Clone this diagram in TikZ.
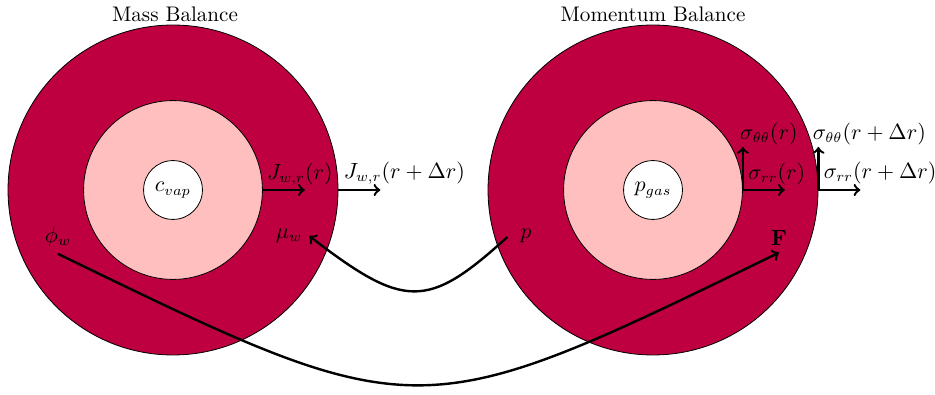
\documentclass[tikz,border=0pt]{standalone}
\usepackage{amsmath, amssymb, amsfonts}
\usetikzlibrary{calc}

\tikzset{
  ring/.style={circle, draw, inner sep=0pt},
  flux/.style={->, very thick}
}

\begin{document}
\begin{tikzpicture}[x=0.0175cm, y=-0.0175cm, font=\fontsize{10.5}{12.6}\selectfont]
        \useasboundingbox (0,0) rectangle (935,395);

        % Titles
        \node (masstitle) at (175,14) {Mass Balance};
        \node (momtitle) at (653,14) {Momentum Balance};

        % Mass balance shells
        \node[ring, fill=purple, minimum size=5.775cm] (massout) at (173,190) {};
        \node[ring, fill=pink, minimum size=3.13cm] (massin) at (massout) {};
        \node[ring, fill=white, minimum size=1.03cm] (masscore) at (massout) {$c_{vap}$};

        % Momentum balance shells
        \node[ring, fill=purple, minimum size=5.775cm] (momout) at (653,190) {};
        \node[ring, fill=pink, minimum size=3.13cm] (momin) at (momout) {};
        \node[ring, fill=white, minimum size=1.03cm] (momcore) at (momout) {$p_{gas}$};

        % Fluxes through the mass shell
        \coordinate (jinend) at ($(massin.east)+(42,0)$);
        \coordinate (joutend) at ($(massout.east)+(42,0)$);
        \draw[flux] (massin.east) -- (jinend);
        \draw[flux] (massout.east) -- (joutend);
        \node[above right, inner sep=2pt] (jin) at (massin.east) {$J_{w,r}(r)$};
        \node[above right, inner sep=2.5pt] (jout) at (massout.east) {$J_{w,r}(r + \Delta r)$};

        % Stresses on the momentum shell
        \coordinate (srrin) at ($(momin.east)+(42,0)$);
        \coordinate (sttin) at ($(momin.east)+(0,-43)$);
        \coordinate (srrout) at ($(momout.east)+(42,0)$);
        \coordinate (sttout) at ($(momout.east)+(0,-43)$);
        \draw[flux] (momin.east) -- (srrin);
        \draw[flux] (momin.east) -- (sttin);
        \draw[flux] (momout.east) -- (srrout);
        \draw[flux] (momout.east) -- (sttout);
        \node[above right, inner sep=2.5pt] (lsrrin) at (momin.east) {$\sigma_{rr}(r)$};
        \node[anchor=south west, inner sep=1pt] (lsttin) at ($(sttin)+(-5,0)$) {$\sigma_{\theta\theta}(r)$};
        \node[anchor=south west, inner sep=0pt] (lsrrout) at ($(momout.east)+(5,-6)$) {$\sigma_{rr}(r + \Delta r)$};
        \node[anchor=south west, inner sep=1pt] (lsttout) at ($(sttout)+(-8,0)$) {$\sigma_{\theta\theta}(r + \Delta r)$};

        % Coupling between the two balances
        \node (muw) at (289,236) {$\mu_w$};
        \node (p) at (526,236) {$p$};
        \node (phiw) at (58,237) {$\phi_w$};
        \node (F) at (779,238) {$\mathbf{F}$};

        \coordinate (pstart) at ($(p.west)+(-6,1)$);
        \draw[flux] (pstart) .. controls +(-80,73) and +(95,73) .. (muw.east);
        \draw[flux] (phiw.south) .. controls +(362,176) and +(-362,176) .. (F.south);
\end{tikzpicture}
\end{document}
